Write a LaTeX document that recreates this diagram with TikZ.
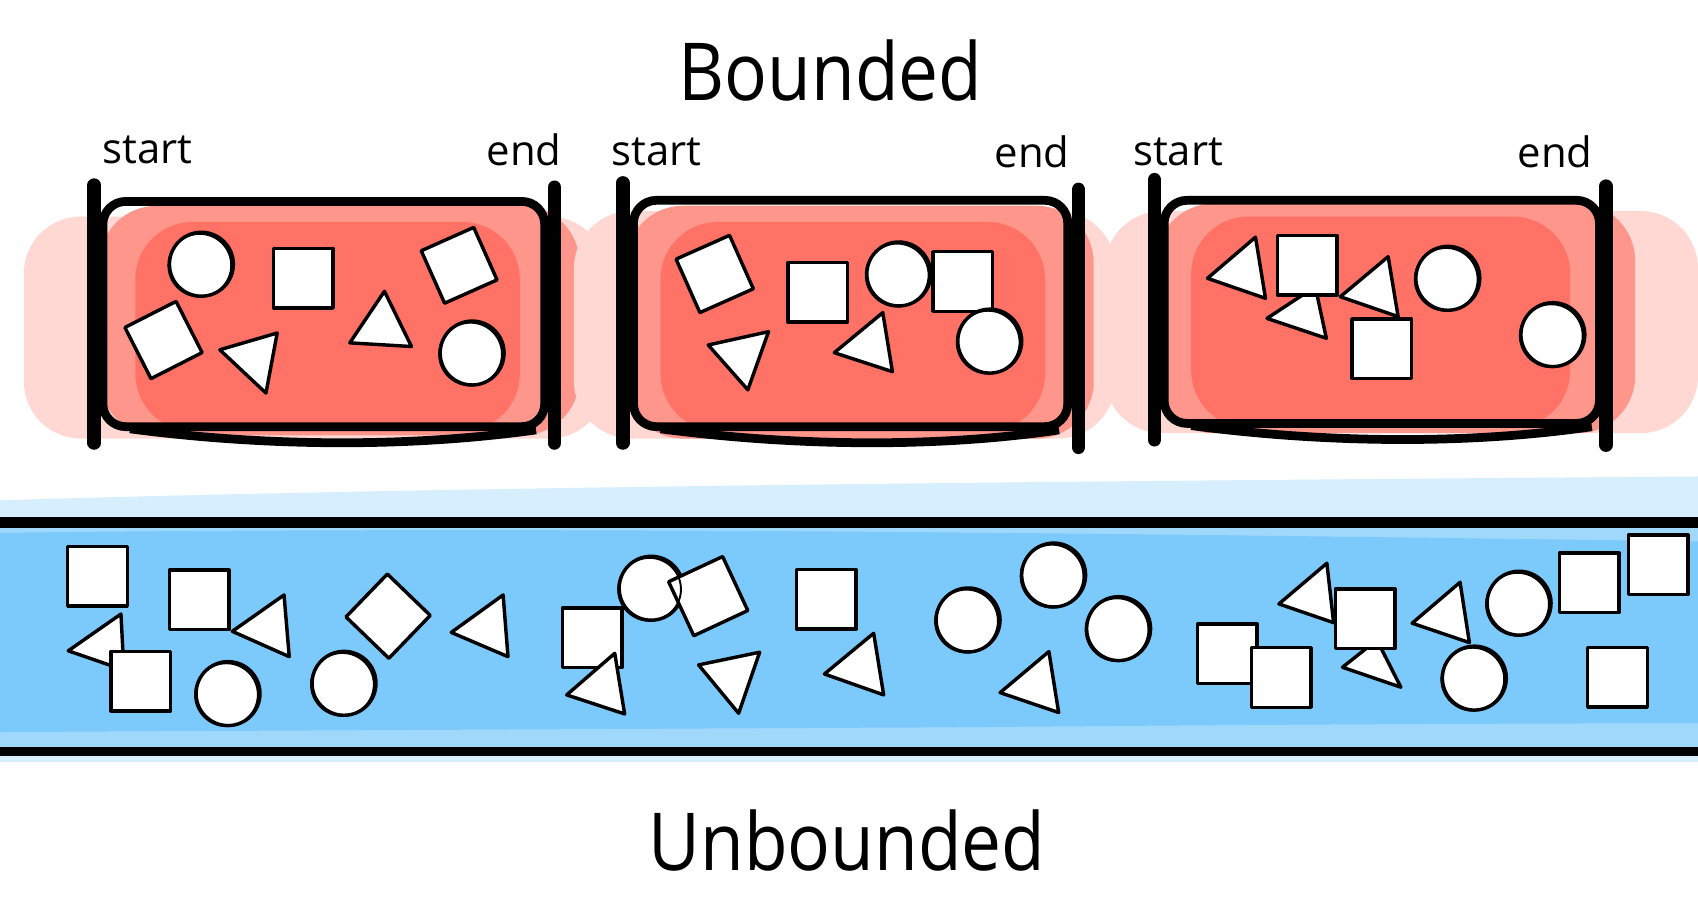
\documentclass[tikz,border=0pt]{standalone}
\usepackage{fontspec}
\setmainfont{Open Sans}
\definecolor{redpale}{RGB}{255,216,212}
\definecolor{redlight}{RGB}{255,150,140}
\definecolor{redmain}{RGB}{255,114,101}
\definecolor{bluepale}{RGB}{214,238,253}
\definecolor{bluelight}{RGB}{160,216,252}
\definecolor{bluemain}{RGB}{124,202,252}

\begin{document}
\begin{tikzpicture}[x=0.01cm, y=-0.01cm,
    frame/.style={line width=2.3pt, rounded corners=6},
    bar/.style={line width=3.6pt, line cap=round},
    shp/.style={draw, fill=white, line width=0.9pt, line join=round},
    sq/.style={shp, rectangle, inner sep=0pt, minimum size=0.55cm},
    dot/.style={shp, circle, inner sep=0pt, minimum size=0.59cm},
    lbl/.style={font=\fontsize{11}{13}\selectfont},
    title/.style={font=\fontsize{21}{25}\selectfont}]
    \useasboundingbox (0,0) rectangle (1568,846);

    % red washes
    \fill[redpale, rounded corners=15] (22,200) rectangle (560,405);
    \fill[redlight, rounded corners=15] (92,190) rectangle (535,402);
    \fill[redmain, rounded corners=15] (125,205) rectangle (480,398);
    \fill[redpale, rounded corners=15] (530,195) rectangle (1030,405);
    \fill[redlight, rounded corners=15] (578,190) rectangle (1010,405);
    \fill[redmain, rounded corners=15] (610,205) rectangle (965,398);
    \fill[redpale, rounded corners=15] (1020,195) rectangle (1568,400);
    \fill[redlight, rounded corners=15] (1068,188) rectangle (1510,400);
    \fill[redmain, rounded corners=15] (1100,200) rectangle (1450,395);

    % bounded frames
    \draw[frame] (95,186) rectangle (503,394);
    \draw[frame] (120,396) .. controls (250,413) and (380,413) .. (495,397);
    \draw[bar] (87,171) -- (87,409);
    \draw[bar] (512,173) -- (512,409);
    \draw[frame] (585,185) rectangle (986,394);
    \draw[frame] (610,396) .. controls (740,413) and (870,413) .. (978,397);
    \draw[bar] (575,169) -- (575,409);
    \draw[bar] (996,175) -- (996,413);
    \draw[frame] (1075,185) rectangle (1477,391);
    \draw[frame] (1100,393) .. controls (1230,410) and (1360,410) .. (1470,394);
    \draw[bar] (1066,166) -- (1066,406);
    \draw[bar] (1483,172) -- (1483,411);

    \node[title] (bounded) at (767,65) {\scalebox{0.89}[1]{Bounded}};
    \node[lbl] (start1) at (136,138) {start};
    \node[lbl] (end1) at (484,138) {end};
    \node[lbl] (start2) at (606,140) {start};
    \node[lbl] (end2) at (953,140) {end};
    \node[lbl] (start3) at (1088,140) {start};
    \node[lbl] (end3) at (1436,140) {end};

    % first box
    \node[dot] (b1c1) at (186,244) {};
    \node[sq] (b1s1) at (280,257) {};
    \node[sq, rotate=24, minimum size=0.53cm] (b1s2) at (424,245) {};
    \node[sq, rotate=27, minimum size=0.53cm] (b1s3) at (151,314) {};
    \draw[shp] (203,323) -- (256,307.5) -- (245.6,363) -- cycle;
    \draw[shp] (323,316.6) -- (355,269) -- (380,320) -- cycle;
    \node[dot] (b1c2) at (436,326) {};

    % second box
    \node[sq, rotate=24, minimum size=0.54cm] (b2s1) at (660,253) {};
    \node[sq] (b2s2) at (755,270) {};
    \node[dot] (b2c1) at (830,253) {};
    \node[sq] (b2s3) at (889,260) {};
    \node[dot] (b2c2) at (914,315) {};
    \draw[shp] (654,318.6) -- (709.7,306.3) -- (690.6,360) -- cycle;
    \draw[shp] (770.4,325.7) -- (815.2,288.7) -- (824.1,343.2) -- cycle;

    % third box
    \draw[shp] (1115,257) -- (1159.4,219) -- (1168.6,275.5) -- cycle;
    \draw[shp] (1170,294) -- (1214.6,264.7) -- (1224.8,312.4) -- cycle;
    \node[sq] (b3s1) at (1207,245) {};
    \draw[shp] (1237.7,274) -- (1281.9,237) -- (1291.1,292.4) -- cycle;
    \node[sq] (b3s2) at (1276,322) {};
    \node[dot] (b3c1) at (1337,257) {};
    \node[dot] (b3c2) at (1434,309) {};

    % unbounded band
    \fill[bluepale] (0,462) .. controls (400,450) and (900,445) .. (1568,440) -- (1568,488) -- (0,488) -- cycle;
    \fill[bluepale] (0,690) rectangle (1568,704);
    \fill[bluelight] (0,486) rectangle (1568,692);
    \fill[bluemain] (0,492) .. controls (500,486) and (1000,492) .. (1568,500) -- (1568,668) .. controls (1200,668) and (900,672) .. (800,672) -- (0,676) -- cycle;
    \draw[line width=2.8pt] (0,482.5) -- (1568,482.5);
    \draw[line width=2.6pt] (0,694) -- (1568,694);

    \node[sq] (u1) at (90,532) {};
    \node[sq] (u2) at (184,554) {};
    \draw[shp] (63,601) -- (111.7,567) -- (114.4,618.7) -- cycle;
    \node[sq] (u3) at (130,629) {};
    \draw[shp] (214.5,583) -- (262.3,549.4) -- (267.1,606.4) -- cycle;
    \node[dot] (u4) at (210.6,640.5) {};
    \node[sq, rotate=46] (u5) at (358.4,569) {};
    \node[dot] (u6) at (317.7,631) {};
    \draw[shp] (416.7,584) -- (464.6,549.4) -- (469.1,606.4) -- cycle;
    \node[sq] (u7) at (547,589) {};
    \draw[shp] (523.3,641.7) -- (567.7,603.3) -- (576.8,659.3) -- cycle;
    \node[dot] (u8) at (601.3,543.2) {};
    \node[sq, rotate=25] (u9) at (654,550.5) {};
    \draw[shp] (645.1,614) -- (701.5,602.3) -- (682.1,658.7) -- cycle;
    \node[sq] (u10) at (763,553.5) {};
    \draw[shp] (761.3,622.4) -- (806.8,584.8) -- (816,641.7) -- cycle;
    \node[dot] (u11) at (894,572.5) {};
    \node[dot] (u12) at (973,531) {};
    \node[dot] (u13) at (1033,580.5) {};
    \draw[shp] (923.5,639.6) -- (968.6,601.7) -- (977.6,658) -- cycle;
    \node[sq] (u14) at (1133.4,603.6) {};
    \node[sq] (u15) at (1183,625.6) {};
    \draw[shp] (1181,557.7) -- (1225.3,520.1) -- (1231.5,575) -- cycle;
    \draw[shp] (1239.7,616.2) -- (1271.5,591) -- (1293.6,634.6) -- cycle;
    \node[sq] (u16) at (1260.6,571.3) {};
    \draw[shp] (1304,575.5) -- (1348.3,537.7) -- (1356.9,593.4) -- cycle;
    \node[dot] (u17) at (1402.8,557) {};
    \node[dot] (u18) at (1361.5,626.2) {};
    \node[sq] (u19) at (1467.7,538) {};
    \node[sq] (u20) at (1531.2,521.5) {};
    \node[sq] (u21) at (1493.6,625.3) {};

    % sketchy second stroke on the circles
    \foreach \c in {b1c1,b1c2,b2c1,b2c2,b3c1,b3c2,u4,u6,u8,u11,u12,u13,u17,u18}
        \draw[line width=0.5pt] ([shift={(-1.5,1)}]\c.center) circle (0.29cm);

    \node[title] (unbounded) at (782,776) {\scalebox{0.89}[1]{Unbounded}};
\end{tikzpicture}
\end{document}
